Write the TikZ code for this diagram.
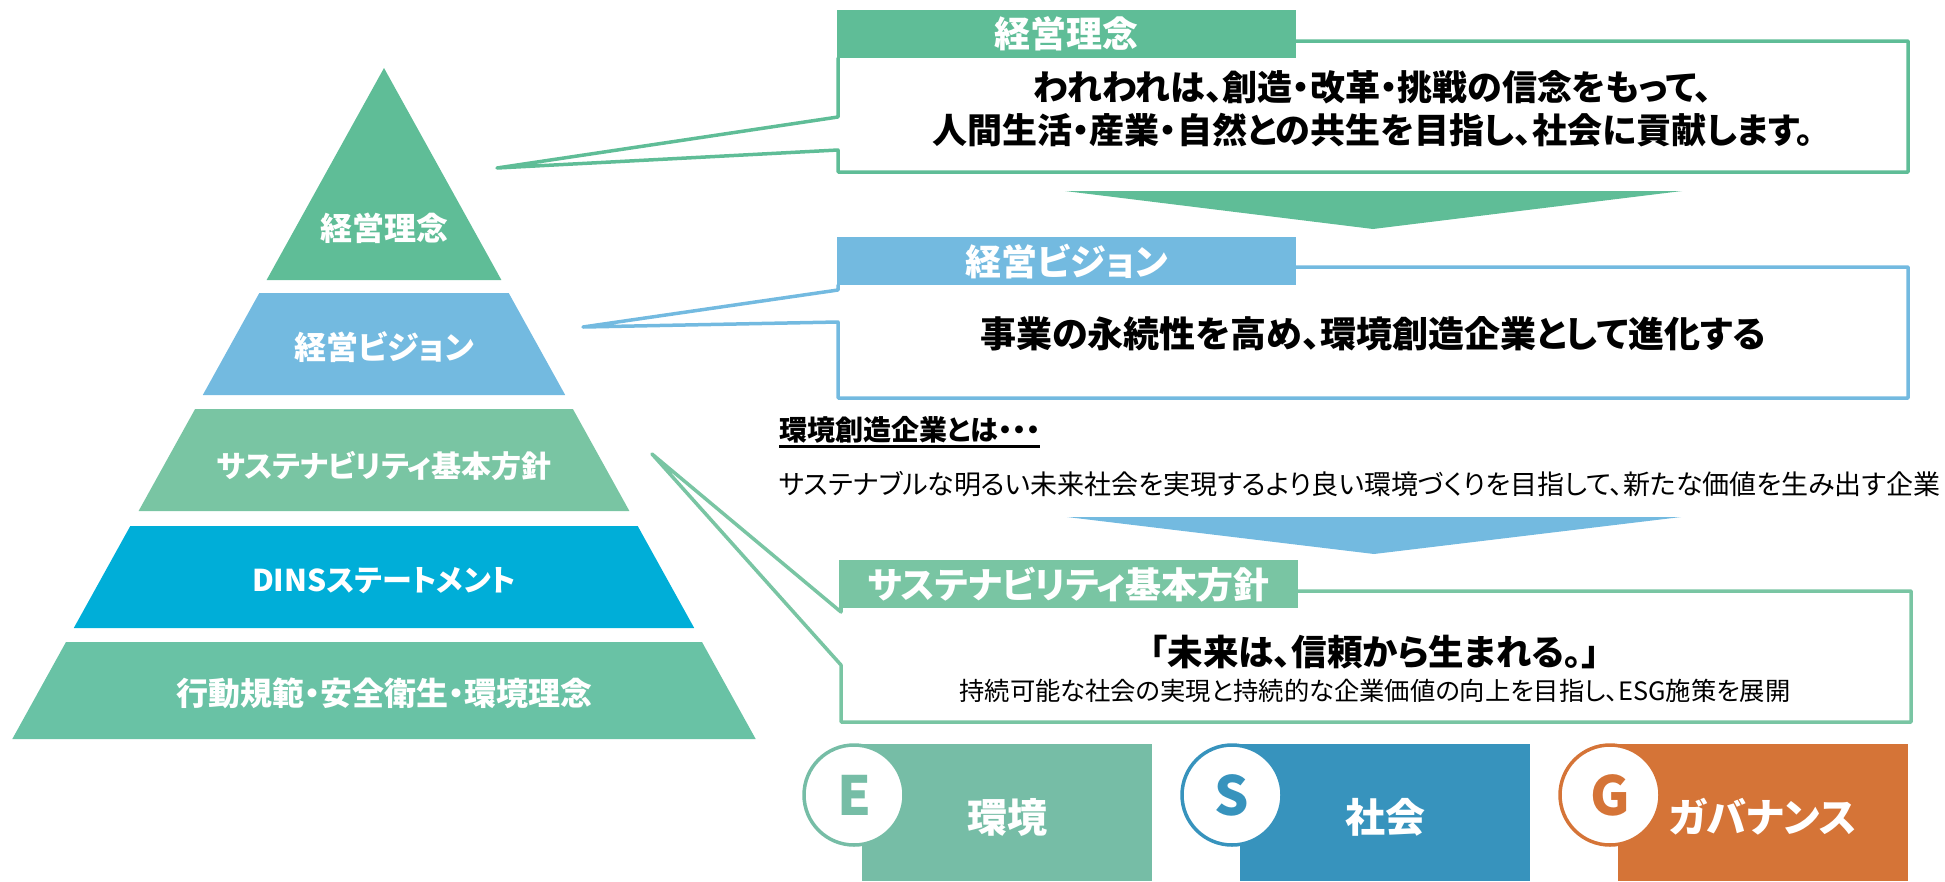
\documentclass[tikz,border=0pt]{standalone}
\usepackage{fontspec}
\setmainfont{Noto Sans CJK JP}[RawFeature=+palt]

\definecolor{visgreen}{HTML}{5FBD97}
\definecolor{visblue}{HTML}{73BAE0}
\definecolor{susgreen}{HTML}{79C5A3}
\definecolor{dinsblue}{HTML}{00AED8}
\definecolor{codegreen}{HTML}{69C2A5}
\definecolor{esgE}{HTML}{76BDA6}
\definecolor{esgS}{HTML}{3793BD}
\definecolor{esgG}{HTML}{D57437}

\newcommand{\tsize}[2]{\fontsize{#1}{#2}\selectfont}

\begin{document}
\begin{tikzpicture}[x=1pt, y=-1pt,
    tiertext/.style={text=white, font=\tsize{32}{38}\bfseries},
    tabbox/.style={anchor=north west, minimum width=459, minimum height=48, inner sep=0,
      text=white, font=\tsize{36}{42}\bfseries},
    callout/.style={line width=3.5pt, line join=round, line cap=round},
    esgbox/.style={anchor=north west, minimum width=290, minimum height=137, inner sep=0},
    esgcirc/.style={circle, fill=white, line width=3.5pt, minimum size=100, inner sep=0,
      font=\tsize{54}{60}\bfseries}]
  \useasboundingbox (0,0) rectangle (1945,881);

  % pyramid
  \fill[visgreen] (384,68) -- (501.4,280) -- (266.6,280) -- cycle;
  \fill[visblue] (259.3,293) -- (508.7,293) -- (565.2,395) -- (202.8,395) -- cycle;
  \fill[susgreen] (195.1,409) -- (572.9,409) -- (629.4,511) -- (138.6,511) -- cycle;
  \fill[dinsblue] (130.3,526) -- (637.7,526) -- (694.2,628) -- (73.8,628) -- cycle;
  \fill[codegreen] (66,642) -- (702,642) -- (755.7,739) -- (12.3,739) -- cycle;

  \node[tiertext] (L1) at (384,228) {経営理念};
  \node[tiertext] (L2) at (384,347) {経営ビジョン};
  \node[tiertext, font=\tsize{30}{36}\bfseries] (L3) at (384,466) {サステナビリティ基本方針};
  \node[tiertext, font=\tsize{30}{36}\bfseries] (L4) at (384,581) {DINSステートメント};
  \node[tiertext] (L5) at (384,693) {行動規範・安全衛生・環境理念};

  % callout: philosophy
  \coordinate (P1) at (497,168);
  \draw[callout, visgreen] (1296,41) -- (1908,41) -- (1908,172) -- (838,172) -- (838,150)
    -- (P1) -- (838,117) -- (838,58);
  \node[tabbox, fill=visgreen] (T1) at (837,10) {経営理念};
  \node[font=\tsize{35}{43}\bfseries, align=center] (M1) at (1373,109)
    {われわれは、創造・改革・挑戦の信念をもって、\\人間生活・産業・自然との共生を目指し、社会に貢献します。};

  \fill[visgreen] (1065,191) -- (1682,191) -- (1373,229) -- cycle;

  % callout: vision
  \coordinate (P2) at (583,327);
  \draw[callout, visblue] (1296,267) -- (1908,267) -- (1908,398) -- (838,398) -- (838,322)
    -- (P2) -- (838,290) -- (838,285);
  \node[tabbox, fill=visblue] (T2) at (837,237) {経営ビジョン};
  \node[font=\tsize{36}{42}\bfseries] (M2) at (1373,334) {事業の永続性を高め、環境創造企業として進化する};

  \node[anchor=west, inner sep=0, font=\tsize{28}{32}\bfseries] (H) at (779,430) {環境創造企業とは・・・};
  \draw[line width=2.5pt] ([yshift=-3]H.south west) -- ([yshift=-3]H.south east);
  \node[anchor=west, inner sep=0, font=\tsize{27}{32}] (D) at (779,484)
    {サステナブルな明るい未来社会を実現するより良い環境づくりを目指して、新たな価値を生み出す企業};

  \fill[visblue] (1067,517) -- (1681,517) -- (1374,554) -- cycle;

  % callout: sustainability
  \coordinate (P3) at (652,454);
  \draw[callout, susgreen] (1298,591) -- (1911,591) -- (1911,722) -- (841,722) -- (841,665)
    -- (P3) -- (841,612) -- (841,608);
  \node[tabbox, fill=susgreen] (T3) at (839,560) {サステナビリティ基本方針};
  \node[font=\tsize{35.5}{40}\bfseries] (M3) at (1375,652) {「未来は、信頼から生まれる。」};
  \node[font=\tsize{25.3}{30}] (S3) at (1375,691)
    {持続可能な社会の実現と持続的な企業価値の向上を目指し、ESG施策を展開};

  % E / S / G
  \foreach \x/\col/\letter/\label in {862/esgE/E/環境, 1240/esgS/S/社会, 1618/esgG/G/ガバナンス} {
    \node[esgbox, fill=\col] (\letter box) at (\x,744) {};
    \node[text=white, font=\tsize{40}{46}\bfseries] (\letter text) at (\x+145,817) {\label};
    \node[esgcirc, draw=\col, text=\col] (\letter circ) at (\x-8,795) {\letter};
  }
\end{tikzpicture}
\end{document}
